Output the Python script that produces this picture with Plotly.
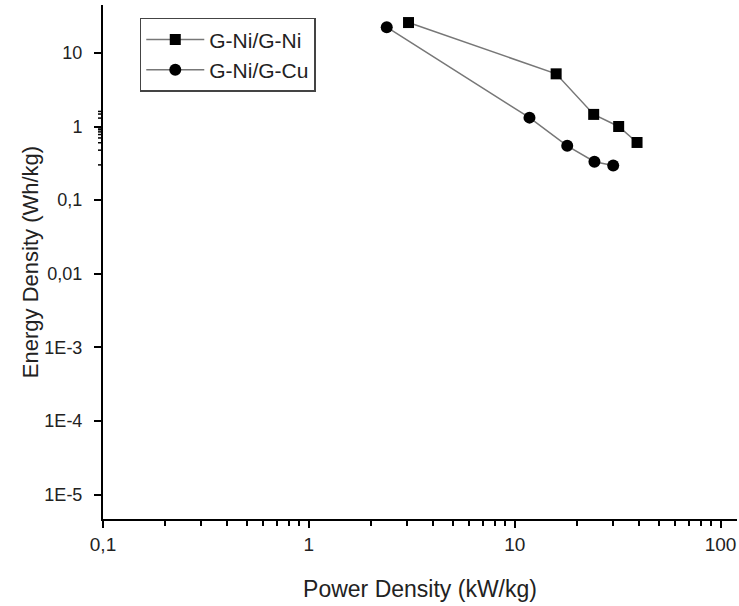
import math
import plotly.graph_objects as go

power_ni = [3.05, 15.9, 24.2, 32.0, 39.3]
energy_ni = [25.8, 5.19, 1.46, 1.0, 0.607]
power_cu = [2.39, 11.8, 18.0, 24.4, 30.1]
energy_cu = [22.3, 1.32, 0.547, 0.332, 0.296]

x_tickvals = [0.1, 1, 10, 100]
x_ticktext = ["0,1", "1", "10", "100"]
y_tickvals = [10, 1, 0.1, 0.01, 1e-3, 1e-4, 1e-5]
y_ticktext = ["10", "1", "0,1", "0,01", "1E-3", "1E-4", "1E-5"]

minor_vals = [m * 10.0 ** e for e in range(-6, 3) for m in range(2, 10)]

fig = go.Figure()
fig.add_trace(go.Scatter(x=power_ni, y=energy_ni, name="G-Ni/G-Ni", mode="lines+markers",
                         line=dict(color="#777777", width=1.5),
                         marker=dict(symbol="square", size=11, color="black")))
fig.add_trace(go.Scatter(x=power_cu, y=energy_cu, name="G-Ni/G-Cu", mode="lines+markers",
                         line=dict(color="#777777", width=1.5),
                         marker=dict(symbol="circle", size=12, color="black")))

YR = [-5.33, 1.65]
W, H = 739, 606
ML, MR, MT, MB = 103, 2, 5, 87
plot_w = W - ML - MR

# minor ticks on the y axis (drawn as short outside tick strokes)
for v in minor_vals:
    lv = math.log10(v)
    if YR[0] <= lv <= YR[1]:
        fig.add_shape(type="line", xref="paper", yref="y",
                      x0=-5.0 / plot_w, x1=0, y0=lv, y1=lv,
                      line=dict(color="black", width=1.5), layer="above")

font = "Liberation Sans, Arial, sans-serif"
minor = dict(tickmode="array", tickvals=minor_vals, ticks="outside", ticklen=5,
             tickwidth=1.5, tickcolor="black", showgrid=False)
fig.update_layout(
    width=W, height=H,
    margin=dict(l=ML, r=MR, t=MT, b=MB),
    plot_bgcolor="white", paper_bgcolor="white",
    font=dict(family=font, size=18, color="#222222"),
    legend=dict(x=0.058, y=0.975, xanchor="left", yanchor="top",
                bordercolor="#444444", borderwidth=1.5, bgcolor="white",
                itemwidth=58, font=dict(size=21)),
    xaxis=dict(type="log", range=[-1, 2.08], tickvals=x_tickvals, ticktext=x_ticktext,
               ticks="outside", ticklen=7, tickwidth=2, tickcolor="black",
               showline=True, linecolor="black", linewidth=2, showgrid=False, zeroline=False,
               minor=minor, automargin=False,
               title=dict(text="Power Density (kW/kg)", font=dict(size=23), standoff=27),
               tickfont=dict(size=19)),
    yaxis=dict(type="log", range=YR, tickvals=y_tickvals, ticktext=y_ticktext,
               ticks="outside", ticklen=7, tickwidth=2, tickcolor="black",
               showline=True, linecolor="black", linewidth=2, showgrid=False, zeroline=False,
               automargin=False, ticklabelstandoff=8,
               title=dict(text="Energy Density (Wh/kg)", font=dict(size=22), standoff=0),
               tickfont=dict(size=18)),
)

fig.write_html("out.html", config={"displayModeBar": False},
               post_script="document.body.style.margin='0';")
